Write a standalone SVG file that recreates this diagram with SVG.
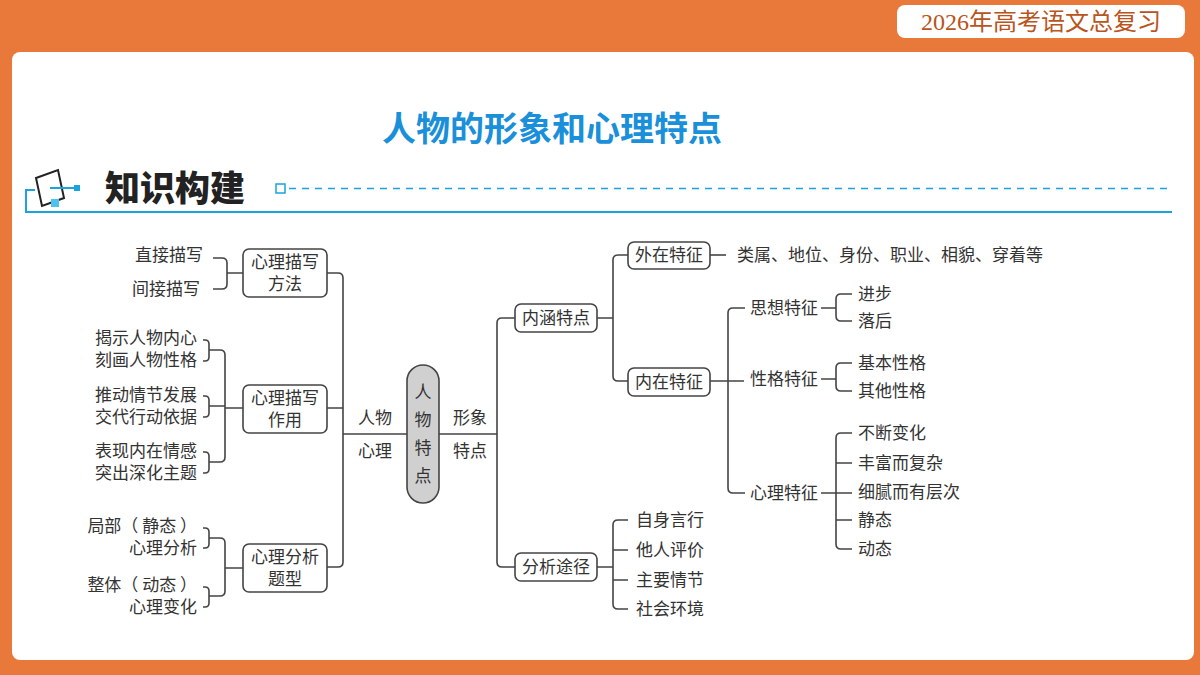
<svg xmlns="http://www.w3.org/2000/svg" width="1200" height="675" viewBox="0 0 1200 675">
<style>
.t{font-family:"Noto Sans CJK SC","Noto Sans",sans-serif;font-size:17px;fill:#333}
.c{fill:none;stroke:#444;stroke-width:1.6}
.b{fill:#fff;stroke:#444;stroke-width:1.6}
</style>
<rect width="1200" height="675" fill="#E9793B"/>
<rect x="12" y="52" width="1182" height="608" rx="8" fill="#fff"/>
<rect x="897" y="5" width="288" height="33" rx="8" fill="#fff"/>
<text x="1041" y="30" text-anchor="middle" font-family="Liberation Serif,'Noto Sans CJK SC',serif" font-size="24" fill="#B8541C">2026年高考语文总复习</text>
<text x="552" y="141" text-anchor="middle" font-family="'Noto Sans CJK SC',sans-serif" font-size="34" font-weight="bold" fill="#1A8FDA">人物的形象和心理特点</text>
<g id="header">
<path d="M35 190 H26 V212 H1172" fill="none" stroke="#1AA3DD" stroke-width="2"/>
<path d="M36 178 L58 170 L64 198 L42 206 Z" fill="none" stroke="#222" stroke-width="2"/>
<rect x="51" y="199" width="8" height="8" fill="#4CC3EE"/>
<path d="M50 188 H76" stroke="#1AA3DD" stroke-width="2"/>
<rect x="74" y="185" width="6" height="6" fill="#1AA3DD"/>
<text x="105" y="201" font-family="'Noto Sans CJK SC',sans-serif" font-size="35" font-weight="900" fill="#222">知识构建</text>
<rect x="276" y="184" width="9" height="9" fill="none" stroke="#1AA3DD" stroke-width="1.5"/>
<path d="M289 188.5 H1172" stroke="#1AA3DD" stroke-width="1.5" stroke-dasharray="7 6"/>
</g>
<g id="connectors" class="c">
<path d="M213 258 H222 Q227 258 227 263 V284 Q227 289 222 289 H213 M227 273 H243"/>
<path d="M203 340 H205 Q209 340 209 344 V357 Q209 361 205 361 H203 M209 350 H220 Q225 350 225 355 V457 Q225 462 220 462 H209 M225 408 H243"/>
<path d="M203 396 H205 Q209 396 209 400 V413 Q209 417 205 417 H203 M209 406 H225"/>
<path d="M203 452 H205 Q209 452 209 456 V469 Q209 473 205 473 H203"/>
<path d="M203 528 H205 Q209 528 209 532 V544 Q209 548 205 548 H203 M209 538 H220 Q225 538 225 543 V591 Q225 596 220 596 H209 M225 568 H243"/>
<path d="M203 587 H205 Q209 587 209 591 V603 Q209 607 205 607 H203"/>
<path d="M327 273 H338 Q343 273 343 278 V562 Q343 567 338 567 H327 M327 408 H343 M343 434 H407"/>
<path d="M439 434 H497 M515 318 H502 Q497 318 497 323 V562 Q497 567 502 567 H515"/>
<path d="M597 318 H613 M628 255 H618 Q613 255 613 260 V376 Q613 381 618 381 H628"/>
<path d="M710 255 H726"/>
<path d="M710 381 H744 M745 308 H733 Q728 308 728 313 V488 Q728 493 733 493 H745"/>
<path d="M821 308 H836 M852 294 H841 Q836 294 836 299 V316 Q836 321 841 321 H852"/>
<path d="M821 379 H836 M852 363 H841 Q836 363 836 368 V386 Q836 391 841 391 H852"/>
<path d="M821 493 H852 M852 433 H841 Q836 433 836 438 V544 Q836 549 841 549 H852 M836 463 H852 M836 520 H852"/>
<path d="M597 567 H613 M628 520 H618 Q613 520 613 525 V604 Q613 609 618 609 H628 M613 550 H628 M613 580 H628"/>
</g>
<g id="n-fangfa"><rect class="b" x="243" y="249" width="84" height="48" rx="6"/><text class="t" x="285" y="268" text-anchor="middle">心理描写</text><text class="t" x="285" y="290" text-anchor="middle">方法</text></g>
<g id="n-zuoyong"><rect class="b" x="243" y="385" width="84" height="48" rx="6"/><text class="t" x="285" y="404" text-anchor="middle">心理描写</text><text class="t" x="285" y="426" text-anchor="middle">作用</text></g>
<g id="n-tixing"><rect class="b" x="243" y="544" width="84" height="48" rx="6"/><text class="t" x="285" y="563" text-anchor="middle">心理分析</text><text class="t" x="285" y="585" text-anchor="middle">题型</text></g>
<g id="n-left-items">
<text class="t" x="203" y="261" text-anchor="end">直接描写</text>
<text class="t" x="200" y="295" text-anchor="end">间接描写</text>
<text class="t" x="197" y="344" text-anchor="end">揭示人物内心</text>
<text class="t" x="197" y="366" text-anchor="end">刻画人物性格</text>
<text class="t" x="197" y="401" text-anchor="end">推动情节发展</text>
<text class="t" x="197" y="423" text-anchor="end">交代行动依据</text>
<text class="t" x="197" y="457" text-anchor="end">表现内在情感</text>
<text class="t" x="197" y="479" text-anchor="end">突出深化主题</text>
<text class="t" x="197" y="532" text-anchor="end">局部（ 静态 ）</text>
<text class="t" x="197" y="554" text-anchor="end">心理分析</text>
<text class="t" x="197" y="591" text-anchor="end">整体（ 动态 ）</text>
<text class="t" x="197" y="613" text-anchor="end">心理变化</text>
</g>
<g id="n-center"><rect x="407" y="365" width="32" height="138" rx="16" fill="#D0D0D0" stroke="#444" stroke-width="1.6"/>
<text class="t" font-size="22" x="423" y="398" text-anchor="middle">人</text>
<text class="t" font-size="22" x="423" y="426" text-anchor="middle">物</text>
<text class="t" font-size="22" x="423" y="454" text-anchor="middle">特</text>
<text class="t" font-size="22" x="423" y="482" text-anchor="middle">点</text>
<text class="t" x="375" y="424" text-anchor="middle">人物</text>
<text class="t" x="375" y="457" text-anchor="middle">心理</text>
<text class="t" x="470" y="424" text-anchor="middle">形象</text>
<text class="t" x="470" y="457" text-anchor="middle">特点</text>
</g>
<g id="n-neihan"><rect class="b" x="515" y="304" width="82" height="28" rx="6"/><text class="t" x="556" y="324" text-anchor="middle">内涵特点</text></g>
<g id="n-fenxi"><rect class="b" x="515" y="553" width="82" height="28" rx="6"/><text class="t" x="556" y="573" text-anchor="middle">分析途径</text></g>
<g id="n-waizai"><rect class="b" x="628" y="242" width="82" height="27" rx="6"/><text class="t" x="669" y="261" text-anchor="middle">外在特征</text></g>
<g id="n-neizai"><rect class="b" x="628" y="368" width="82" height="28" rx="6"/><text class="t" x="669" y="388" text-anchor="middle">内在特征</text></g>
<g id="n-right-items">
<text class="t" x="737" y="261">类属、地位、身份、职业、相貌、穿着等</text>
<text class="t" x="750" y="314">思想特征</text>
<text class="t" x="750" y="385">性格特征</text>
<text class="t" x="750" y="499">心理特征</text>
<text class="t" x="858" y="300">进步</text>
<text class="t" x="858" y="327">落后</text>
<text class="t" x="858" y="369">基本性格</text>
<text class="t" x="858" y="397">其他性格</text>
<text class="t" x="858" y="439">不断变化</text>
<text class="t" x="858" y="469">丰富而复杂</text>
<text class="t" x="858" y="498">细腻而有层次</text>
<text class="t" x="858" y="526">静态</text>
<text class="t" x="858" y="555">动态</text>
<text class="t" x="636" y="526">自身言行</text>
<text class="t" x="636" y="556">他人评价</text>
<text class="t" x="636" y="586">主要情节</text>
<text class="t" x="636" y="615">社会环境</text>
</g>
</svg>
